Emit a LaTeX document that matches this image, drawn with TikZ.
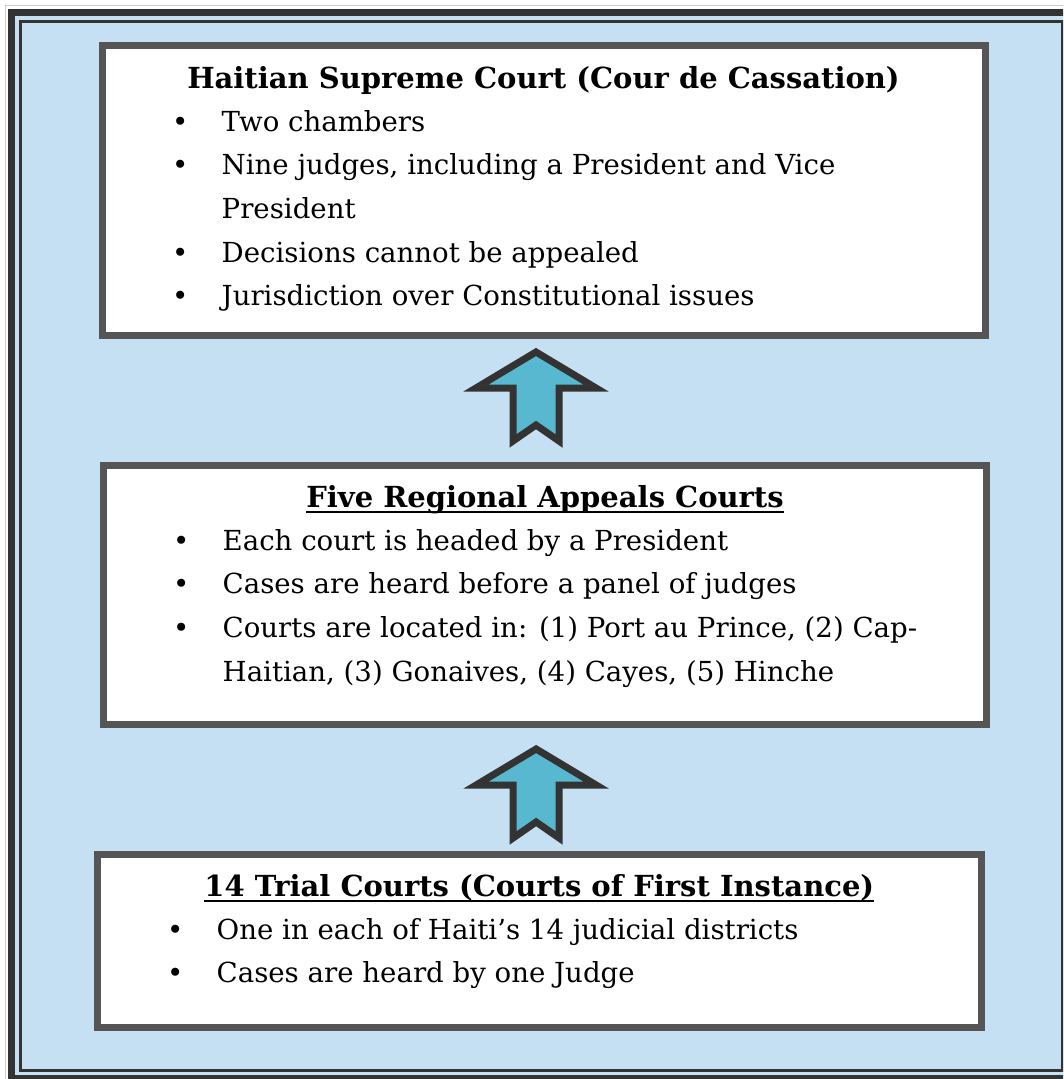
\documentclass[tikz,border=0pt]{standalone}
\usepackage{fontspec}
\setmainfont{DejaVu Serif}
\usetikzlibrary{calc,positioning}

\definecolor{framebg}{RGB}{198,224,243}
\definecolor{boxline}{RGB}{85,85,85}
\definecolor{framedark}{RGB}{51,51,51}
\definecolor{arrowfill}{RGB}{87,184,207}

\newcommand\bul{\makebox[0pt]{\textbullet}\hspace*{41.5pt}}
\newcommand\cont{\hspace*{41.5pt}}

\begin{document}
\begin{tikzpicture}[x=1pt,y=-1pt,
  court/.style={draw=boxline,line width=7pt,fill=white,inner sep=0pt,outer sep=0pt},
  title/.style={anchor=base,inner sep=0pt,font=\fontsize{29}{35}\selectfont\bfseries},
  items/.style={anchor=base west,inner sep=0pt,font=\fontsize{27.6}{43.7}\selectfont},
  upblock/.pic={\draw[framedark,fill=arrowfill,line width=7pt,miter limit=10]
    (0,-44) -- (60,-8) -- (23,-8) -- (23,45) -- (0,29) -- (-23,45) -- (-23,-8) -- (-60,-8) -- cycle;}]
  \useasboundingbox (0,0) rectangle (1063,1079);
  \clip (0,0) rectangle (1063,1079);
  % frame
  \fill[white] (0,0) rectangle (1063,1079);
  \draw[black!20,line width=1.5pt] (5.5,5.5) rectangle (1090,1100);
  \fill[framebg] (11,12) rectangle (1075,1078);
  \draw[framedark,line width=7pt] (11,12) rectangle (1075,1078);
  \draw[framedark,line width=3pt] (20.5,21.5) rectangle (1062,1070.5);

  % courts
  \node[court,minimum width=883pt,minimum height=290pt] (supreme) at (543.5,190.5) {};
  \node[court,minimum width=883pt,minimum height=258.5pt] (appeals) at (545,594.75) {};
  \node[court,minimum width=883.5pt,minimum height=172.5pt] (trial) at (539.25,940.75) {};

  \node[title] (supremeT) at ($(supreme.north)+(0,42.5)$) {Haitian Supreme Court (Cour de Cassation)};
  \node[items] (supremeL) at ($(supreme.north west)+(78,85.5)$) {\begin{tabular}[t]{@{}l@{}}
    \bul Two chambers\\
    \bul Nine judges, including a President and Vice\\
    \cont President\\
    \bul Decisions cannot be appealed\\
    \bul Jurisdiction over Constitutional issues
  \end{tabular}};

  \node[title] (appealsT) at ($(appeals.north)+(0,41.5)$) {Five Regional Appeals Courts};
  \draw[line width=2pt] ($(appealsT.base west)+(0,5)$) -- ($(appealsT.base east)+(0,5)$);
  \node[items] (appealsL) at ($(appeals.north west)+(77.5,84.5)$) {\begin{tabular}[t]{@{}l@{}}
    \bul Each court is headed by a President\\
    \bul Cases are heard before a panel of judges\\
    \bul Courts are located in: (1) Port au Prince, (2) Cap-\\
    \cont Haitian, (3) Gonaives, (4) Cayes, (5) Hinche
  \end{tabular}};

  \node[title] (trialT) at ($(trial.north)+(0,41.5)$) {14 Trial Courts (Courts of First Instance)};
  \draw[line width=2pt] ($(trialT.base west)+(0,5)$) -- ($(trialT.base east)+(0,5)$);
  \node[items] (trialL) at ($(trial.north west)+(77.5,84.5)$) {\begin{tabular}[t]{@{}l@{}}
    \bul One in each of Haiti’s 14 judicial districts\\
    \bul Cases are heard by one Judge
  \end{tabular}};

  % arrows
  \path (supreme.south) -- (appeals.north) coordinate[pos=.5] (gap1);
  \path (appeals.south) -- (trial.north) coordinate[pos=.5] (gap2);
  \pic at ($(gap1)+(-8.25,-4.5)$) {upblock};
  \pic at ($(gap2)+(-6,3.75)$) {upblock};
\end{tikzpicture}
\end{document}
